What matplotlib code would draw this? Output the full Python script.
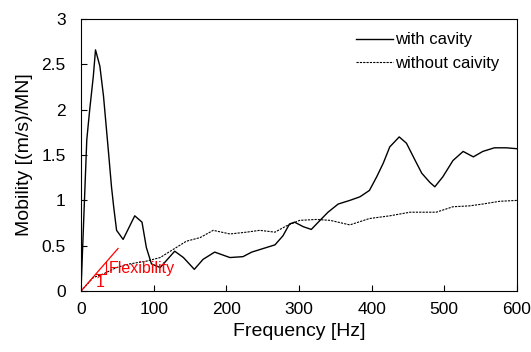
import numpy as np
import matplotlib

matplotlib.use("Agg")
import matplotlib.pyplot as plt

plt.rcParams["font.family"] = ["Liberation Sans", "DejaVu Sans"]

# with cavity: frequency [Hz], mobility [(m/s)/MN]
freq_cav = [0, 8, 12, 17, 20, 26, 31, 38, 42, 45, 49, 58, 74, 84, 90, 97, 109,
            129, 141, 156, 168, 184, 205, 223, 235, 251, 267, 278, 287, 294,
            306, 317, 329, 340, 354, 370, 384, 397, 407, 416, 425, 438, 448,
            460, 469, 480, 487, 498, 512, 526, 540, 553, 569, 585, 600]
mob_cav = [0, 1.67, 2.0, 2.37, 2.66, 2.48, 2.15, 1.52, 1.15, 0.93, 0.67, 0.57,
           0.83, 0.76, 0.48, 0.30, 0.26, 0.44, 0.37, 0.24, 0.35, 0.43, 0.37,
           0.38, 0.43, 0.47, 0.51, 0.61, 0.74, 0.76, 0.71, 0.68, 0.78, 0.87,
           0.96, 1.00, 1.04, 1.11, 1.26, 1.41, 1.59, 1.70, 1.63, 1.44, 1.30,
           1.20, 1.15, 1.26, 1.44, 1.54, 1.48, 1.54, 1.58, 1.58, 1.57]

# without cavity
freq_nocav = [0, 17, 31, 49, 67, 90, 109, 127, 145, 164, 182, 205, 228, 246,
              267, 283, 301, 324, 343, 370, 397, 425, 453, 489, 512, 535, 553,
              576, 600]
mob_nocav = [0, 0.15, 0.19, 0.26, 0.30, 0.33, 0.37, 0.46, 0.55, 0.59, 0.67,
             0.63, 0.65, 0.67, 0.65, 0.72, 0.78, 0.79, 0.78, 0.73, 0.80, 0.83,
             0.87, 0.87, 0.93, 0.94, 0.96, 0.99, 1.00]

# flexibility slope line and triangle
flex_x = [0, 51]
flex_y = [0, 0.47]
tri_x = [20.6, 35, 35]
tri_y = [0.19, 0.19, 0.32]

fig = plt.figure(figsize=(5.31, 3.52), dpi=100)
ax = fig.add_axes([0.1525, 0.173, 0.821, 0.773])

ax.plot(freq_cav, mob_cav, color="black", lw=1.0, label="with cavity")
ax.plot(freq_nocav, mob_nocav, color="black", lw=0.8, ls=(0, (2, 1)),
        label="without caivity")
ax.plot(flex_x, flex_y, color="red", lw=0.9)
ax.plot(tri_x, tri_y, color="red", lw=0.8)
ax.text(38, 0.245, "Flexibility", color="red", fontsize=11.5, va="center", ha="left")
ax.text(27, 0.10, "1", color="red", fontsize=11.5, va="center", ha="center")

ax.set_xlim(0, 600)
ax.set_ylim(0, 3)
ax.set_xticks([0, 100, 200, 300, 400, 500, 600])
ax.set_yticks([0, 0.5, 1, 1.5, 2, 2.5, 3])
ax.set_yticklabels(["0", "0.5", "1", "1.5", "2", "2.5", "3"])
ax.tick_params(direction="in", labelsize=12.5, length=4)
ax.tick_params(axis="y", pad=11)
ax.tick_params(axis="x", pad=8)
ax.set_xlabel("Frequency [Hz]", fontsize=14, labelpad=4)
ax.set_ylabel("Mobility [(m/s)/MN]", fontsize=14, labelpad=6)
ax.legend(loc="upper right", bbox_to_anchor=(0.975, 0.975), frameon=False,
          fontsize=12, handlelength=2.2, handletextpad=0.15, borderaxespad=0.0,
          labelspacing=0.5)

fig.savefig("out.png", dpi=100)
